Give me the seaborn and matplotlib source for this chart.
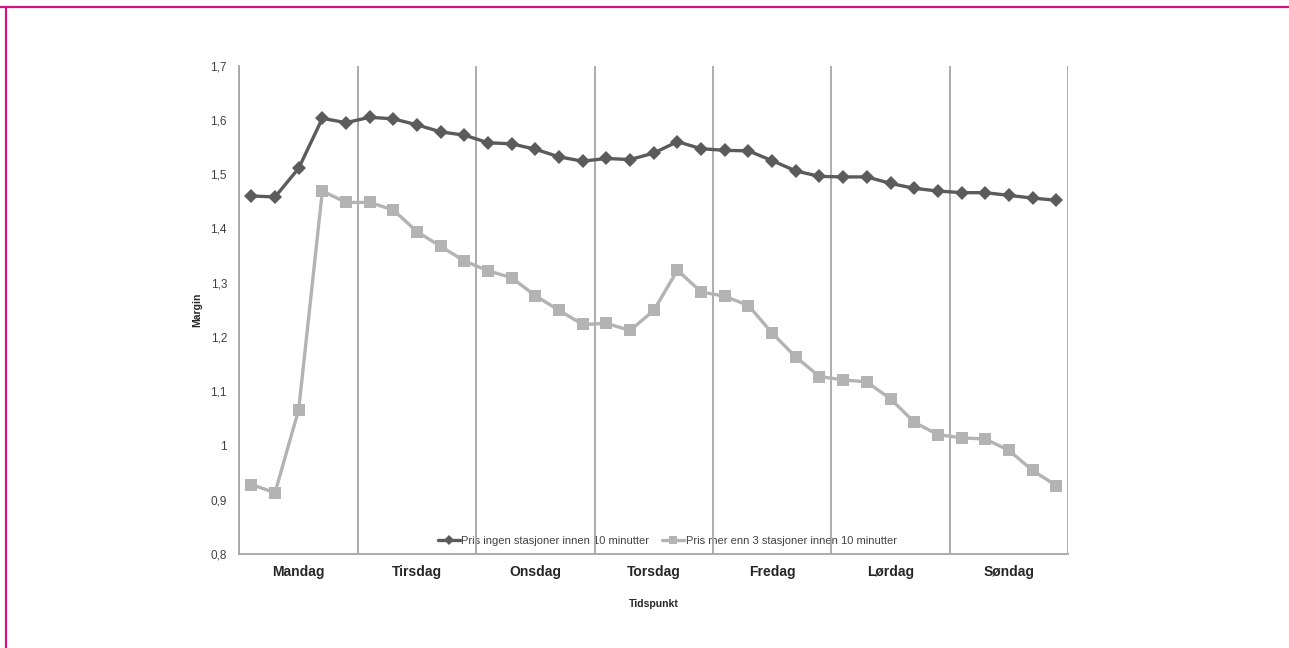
import numpy as np
import pandas as pd
import matplotlib
matplotlib.use("Agg")
import matplotlib.pyplot as plt
from matplotlib.lines import Line2D
from matplotlib.ticker import FixedLocator, FuncFormatter
import seaborn as sns

days = ["Mandag", "Tirsdag", "Onsdag", "Torsdag", "Fredag", "Lørdag", "Søndag"]
points_per_day = 5

series_names = [
    "Pris ingen stasjoner innen 10 minutter",
    "Pris mer enn 3 stasjoner innen 10 minutter",
]

margin_none = [
    1.460, 1.458, 1.511, 1.603, 1.595,
    1.605, 1.602, 1.591, 1.578, 1.572,
    1.558, 1.556, 1.546, 1.532, 1.524,
    1.529, 1.527, 1.539, 1.560, 1.547,
    1.544, 1.543, 1.525, 1.506, 1.496,
    1.495, 1.495, 1.483, 1.474, 1.469,
    1.466, 1.466, 1.461, 1.456, 1.452,
]

margin_many = [
    0.928, 0.913, 1.066, 1.469, 1.448,
    1.448, 1.434, 1.394, 1.367, 1.340,
    1.322, 1.309, 1.276, 1.249, 1.223,
    1.225, 1.212, 1.249, 1.323, 1.283,
    1.275, 1.258, 1.207, 1.163, 1.127,
    1.121, 1.117, 1.086, 1.043, 1.020,
    1.014, 1.012, 0.991, 0.954, 0.926,
]

y_ticks = [0.8, 0.9, 1.0, 1.1, 1.2, 1.3, 1.4, 1.5, 1.6, 1.7]

sns.set_theme(style="white")
plt.rcParams["font.family"] = ["Liberation Sans Narrow", "Liberation Sans", "DejaVu Sans"]

n = len(margin_none)
df = pd.DataFrame({
    "Tidspunkt": np.concatenate([np.arange(n), np.arange(n)]),
    "Margin": margin_none + margin_many,
    "Serie": [series_names[0]] * n + [series_names[1]] * n,
})

dark = "#5b5b5b"
light = "#b3b3b3"
grid_c = "#a6a6a6"

fig = plt.figure(figsize=(12.89, 6.48), dpi=100)
ax = fig.add_axes([0.1858, 0.1451, 0.6428, 0.7535])

sns.lineplot(
    data=df, x="Tidspunkt", y="Margin", hue="Serie", style="Serie",
    palette=[dark, light], markers=["D", "s"], dashes=False,
    linewidth=2.4, markersize=7.5, markeredgewidth=0,
    ax=ax, legend=False, zorder=3,
)
# square markers a little larger than the diamonds
for line, ms in zip(ax.lines, [6.8, 8.0]):
    line.set_markersize(ms)

ax.set_xlim(-0.5, n - 0.5)
ax.set_ylim(0.8, 1.7)

# day boundaries as major ticks with gridlines, day names centred as minor ticks
bounds = [i * points_per_day - 0.5 for i in range(len(days) + 1)]
centers = [i * points_per_day + (points_per_day - 1) / 2 for i in range(len(days))]
ax.xaxis.set_major_locator(FixedLocator(bounds))
ax.xaxis.set_major_formatter(FuncFormatter(lambda v, p: ""))
ax.xaxis.set_minor_locator(FixedLocator(centers))
ax.set_xticks(centers, minor=True)
ax.set_xticklabels(days, minor=True, fontsize=10, fontweight="bold",
                   color="#262626", family=["Liberation Sans", "DejaVu Sans"])
ax.tick_params(axis="x", which="minor", length=0, pad=8)
ax.tick_params(axis="x", which="major", length=6, width=1.2, color=grid_c, direction="out")
ax.grid(axis="x", which="major", color=grid_c, linewidth=1.3, zorder=1)
ax.grid(axis="y", visible=False)

ax.set_yticks(y_ticks)
ax.yaxis.set_major_formatter(
    FuncFormatter(lambda v, p: (f"{v:.1f}".rstrip("0").rstrip(".")).replace(".", ","))
)
ax.tick_params(axis="y", which="major", length=5, width=1.2, color=grid_c,
               direction="out", labelsize=8.5, labelcolor="#404040", pad=4)

for side in ["top", "right"]:
    ax.spines[side].set_visible(False)
for side in ["left", "bottom"]:
    ax.spines[side].set_color(grid_c)
    ax.spines[side].set_linewidth(1.3)

ax.set_xlabel("Tidspunkt", fontsize=7.5, fontweight="bold", color="#262626", labelpad=14)
ax.set_ylabel("Margin", fontsize=7.5, fontweight="bold", color="#262626", labelpad=6)

handles = [
    Line2D([], [], color=dark, lw=2.4, marker="D", markersize=5, markeredgewidth=0),
    Line2D([], [], color=light, lw=2.4, marker="s", markersize=6, markeredgewidth=0),
]
leg = ax.legend(handles, series_names, loc="lower center", bbox_to_anchor=(0.516, 0.0),
                ncol=2, frameon=False, fontsize=8, handlelength=2.0, handletextpad=0.1,
                columnspacing=1.2, borderaxespad=0.3)
for t in leg.get_texts():
    t.set_color("#404040")
leg.set_zorder(0)

# thin magenta frame along the top and left edges of the page
fig.add_artist(Line2D([0.0, 1.0], [1 - 6.5 / 648, 1 - 6.5 / 648], transform=fig.transFigure,
                      color="#d4147c", linewidth=1.6))
fig.add_artist(Line2D([5.5 / 1289, 5.5 / 1289], [0.0, 1 - 6.5 / 648], transform=fig.transFigure,
                      color="#d4147c", linewidth=1.6))

fig.savefig("out.png", dpi=100, facecolor="white")
